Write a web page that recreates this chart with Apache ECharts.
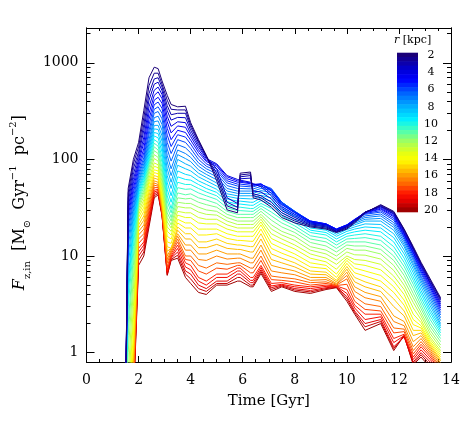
<!DOCTYPE html>
<html>
<head>
<meta charset="utf-8">
<script src="https://cdn.jsdelivr.net/npm/echarts@6.0.0/dist/echarts.min.js"></script>
<style>
    html, body { margin: 0; padding: 0; background: #fff; }
    #chart { width: 474px; height: 427px; }
</style>
</head>
<body>
<div id="chart"></div>
<script>
// time grid in Gyr
const times = [1.5, 1.6, 1.8, 2.0, 2.2, 2.4, 2.6, 2.75, 2.9, 3.1, 3.25, 3.5, 3.8, 4.0, 4.3, 4.6, 5.0, 5.4, 5.8, 5.9,
    6.3, 6.4, 6.7, 7.1, 7.5, 8.0, 8.6, 9.2, 9.6, 10.0, 10.3, 10.7, 11.3, 11.8, 12.2, 12.55, 12.85, 13.2, 13.6]

// radii in kpc, one curve each
const radii = [2, 2.5, 3, 3.5, 4, 4.5, 5, 5.5, 6, 6.5, 7, 7.5, 8, 8.5, 9, 9.5, 10, 10.5, 11, 11.5,
    12, 12.5, 13, 13.5, 14, 14.5, 15, 15.5, 16, 16.5, 17, 17.5, 18, 18.5, 19, 19.5, 20]

// F_z,in per radius (rows follow radii, columns follow times)
const inflow = [
    [0.3, 50, 100, 150, 320, 700, 900, 870, 650, 460, 370, 350, 355, 240, 160, 110, 60, 30, 28, 72, 74, 40, 38, 32, 25, 22, 20, 19, 17.5, 19, 22, 28, 34, 29, 19, 12.5, 8.6, 5.8, 3.7],
    [0.3, 45, 90, 135, 270, 580, 780, 780, 600, 410, 330, 325, 325, 228, 155, 109, 66, 33, 30, 69, 71, 42, 40, 34, 26.5, 23, 20.5, 19.5, 17.8, 19.5, 22.5, 28.2, 33.5, 28.5, 18.8, 12.2, 8.4, 5.6, 3.6],
    [0.3, 40, 80, 120, 230, 480, 680, 700, 560, 360, 290, 300, 300, 215, 150, 108, 72, 36, 32, 66, 68, 44, 42, 36, 28, 24, 21, 20, 18, 20, 23, 28.5, 33, 28, 18.5, 12, 8.2, 5.5, 3.5],
    [0.3, 36, 70, 110, 200, 410, 600, 630, 515, 320, 255, 272, 270, 200, 142, 105, 80, 40, 35, 63, 64, 47, 46, 39, 29.5, 25, 21.5, 20.5, 18.2, 20.2, 23.2, 28.5, 32.5, 27.5, 18, 11.8, 8, 5.3, 3.35],
    [0.3, 32, 62, 100, 170, 350, 520, 560, 470, 280, 220, 245, 240, 185, 135, 102, 90, 68, 62, 61, 58, 56, 52, 42, 31, 26, 22, 21, 18.5, 20.5, 23.5, 28.5, 32, 27, 17.5, 11.5, 7.8, 5.2, 3.2],
    [0.3, 29, 56, 92, 150, 300, 460, 500, 425, 245, 188, 222, 215, 172, 126, 98, 88, 66, 60, 59.5, 57, 55.5, 54, 44.5, 32.5, 27, 22.5, 21.2, 18.8, 20.8, 23.8, 28.2, 31.2, 26.2, 17, 11.1, 7.5, 5, 3.05],
    [0.3, 26, 50, 85, 130, 260, 410, 440, 380, 210, 160, 200, 190, 158, 118, 95, 85, 63, 58, 58, 56, 55, 56, 47, 34, 28, 23, 21.5, 19, 21, 24, 28, 30.5, 25.5, 16.5, 10.8, 7.2, 4.8, 2.9],
    [0.3, 23, 45, 78, 117, 228, 368, 392, 338, 178, 136, 180, 170, 144, 109, 90, 80, 60, 55.5, 55.5, 54, 53.5, 55.5, 48.5, 35, 28.5, 23, 21.5, 19, 21, 23.8, 27.5, 29.5, 24.5, 16, 10.4, 6.9, 4.55, 2.75],
    [0.3, 20, 40, 72, 105, 200, 330, 350, 300, 150, 115, 160, 150, 130, 100, 85, 76, 57, 53, 53, 52, 52, 55, 50, 36, 29, 23, 21.5, 19, 21, 23.5, 27, 28.5, 23.5, 15.5, 10, 6.6, 4.3, 2.6],
    [0.3, 17.5, 36, 67, 97, 180, 300, 313, 263, 128, 96, 142, 132, 117, 92, 80, 71, 53.5, 50, 50, 49.5, 49.5, 52.5, 49, 36, 29, 22.8, 21.2, 18.8, 20.8, 23, 26, 27.2, 22.2, 14.8, 9.5, 6.2, 4.05, 2.45],
    [0.3, 15, 32, 62, 90, 160, 270, 280, 230, 110, 80, 125, 115, 105, 85, 75, 66, 50, 47, 47, 47, 47, 50, 48, 36, 29, 22.5, 21, 18.5, 20.5, 22.5, 25, 26, 21, 14, 9, 5.9, 3.8, 2.3],
    [0.3, 12.5, 29, 58, 84, 147, 246, 250, 200, 94, 68, 112, 102, 95, 78, 70, 61.5, 47, 44.5, 44.5, 44.5, 44.5, 47.5, 45.5, 35, 28.5, 22, 20.5, 18, 20, 21.8, 24, 24.5, 19.8, 13.2, 8.4, 5.55, 3.55, 2.15],
    [0.3, 10, 26, 55, 78, 135, 225, 225, 175, 80, 58, 100, 90, 85, 72, 65, 57, 44, 42, 42, 42, 42, 45, 43, 34, 28, 21.5, 20, 17.5, 19.5, 21, 23, 23, 18.5, 12.5, 7.9, 5.2, 3.3, 2.0],
    [0.3, 8, 23, 51, 73, 125, 207, 204, 154, 68, 50, 87, 80, 76, 66, 60, 53, 41.5, 39.5, 39.5, 39, 39, 42.5, 40, 32, 26.8, 20.5, 19.2, 16.8, 18.8, 20, 21.5, 21.2, 17, 11.5, 7.3, 4.8, 3.05, 1.9],
    [0.3, 6, 20, 48, 68, 115, 190, 185, 135, 58, 42, 76, 70, 68, 60, 55, 49, 39, 37, 37, 36, 36, 40, 37, 30, 25.5, 19.5, 18.5, 16, 18, 19, 20, 19.5, 15.5, 10.5, 6.7, 4.4, 2.8, 1.8],
    [0.3, 5, 17.5, 45, 64, 107, 175, 167, 119, 49, 36, 66, 62, 61, 55, 50, 45.5, 36.5, 34.5, 34.5, 33.5, 33.5, 37.5, 34, 28, 23.8, 18.5, 17.5, 15, 17, 17.8, 18.5, 17.8, 14, 9.5, 6.1, 4.05, 2.6, 1.7],
    [0.3, 4, 15, 42, 60, 100, 160, 150, 105, 42, 31, 58, 55, 55, 50, 46, 42, 34, 32, 32, 31, 31, 35, 31, 26, 22, 17.5, 16.5, 14, 16, 16.5, 17, 16, 12.5, 8.6, 5.6, 3.7, 2.4, 1.6],
    [0.3, 3, 12.5, 39.5, 56, 94, 147, 137, 93, 37, 28, 51, 49, 49.5, 45, 42, 38.5, 31.5, 29.5, 29.5, 29, 29, 33, 28.5, 24, 20.5, 16.2, 15.2, 13, 15, 15.2, 15.5, 14.5, 11.2, 7.8, 5.1, 3.4, 2.2, 1.5],
    [0.3, 2, 10, 37, 52, 88, 135, 125, 82, 32, 25, 45, 43, 44, 40, 38, 35, 29, 27, 27, 27, 27, 31, 26, 22, 19, 15, 14, 12, 14, 14, 14, 13, 10, 7, 4.6, 3.1, 2.0, 1.4],
    [0.3, 1.5, 8, 35, 48, 82, 123, 115, 73, 28, 23, 40, 39, 39.5, 36, 34, 32, 27, 25, 25, 25, 25, 29, 23.5, 20, 17.5, 13.8, 12.7, 11, 13, 12.7, 12.7, 11.7, 9, 6.3, 4.1, 2.85, 1.85, 1.3],
    [0.3, 1, 6, 33, 45, 76, 112, 105, 65, 25, 21, 36, 35, 35, 32, 30, 29, 25, 23, 23, 23, 23, 27, 21, 18, 16, 12.5, 11.5, 10, 12, 11.5, 11.5, 10.5, 8, 5.6, 3.7, 2.6, 1.7, 1.2],
    [0.3, 0.6, 4.5, 31, 41.5, 70, 102, 96, 58, 22.5, 19.5, 32.5, 31.5, 31.5, 28.5, 27, 26.5, 23, 21.2, 21.2, 21.2, 21.2, 25.5, 19, 16.5, 14.5, 11.5, 10.5, 9.1, 11, 10.3, 10.2, 9.3, 7.1, 5, 3.3, 2.4, 1.57, 1.12],
    [0.3, 0.4, 3, 29, 38, 64, 92, 88, 52, 20, 18, 29, 28, 28, 25, 24, 24, 21, 19.5, 19.5, 19.5, 19.5, 24, 17, 15, 13, 10.5, 9.5, 8.2, 10, 9.2, 9, 8.2, 6.2, 4.5, 2.9, 2.2, 1.45, 1.05],
    [0.3, 0.3, 2.2, 27, 35, 59, 85, 82, 47, 18, 16.5, 26.5, 25, 25, 22, 21.5, 21.5, 19, 17.8, 17.8, 17.8, 17.8, 22.5, 15.2, 13.5, 11.8, 9.5, 8.7, 7.3, 9.5, 8.3, 8, 7.2, 5.5, 4, 2.5, 2.05, 1.37, 1.0],
    [0.3, 0.3, 1.5, 25, 32, 55, 78, 76, 42, 16, 15, 24, 22, 22, 19, 19, 19, 17, 16, 16, 16, 16, 21, 13.5, 12, 10.5, 8.5, 8, 6.5, 9, 7.5, 7, 6.3, 4.8, 3.5, 2.2, 1.9, 1.3, 0.95],
    [0.3, 0.3, 1.2, 23, 29, 50, 73, 71, 39, 14, 13.5, 22, 19.5, 19.5, 16.5, 16.5, 17, 15.2, 14.5, 14.5, 14.2, 14.2, 19, 12, 10.7, 9.5, 7.7, 7.4, 6, 8.4, 6.7, 6.2, 5.5, 4.2, 3.1, 1.95, 1.8, 1.25, 0.9],
    [0.3, 0.3, 1, 21, 26, 46, 68, 66, 36, 12.5, 12, 20, 17, 17, 14, 14, 15, 13.5, 13, 13, 12.5, 12.5, 17, 10.5, 9.5, 8.5, 7, 6.8, 5.6, 7.8, 6, 5.4, 4.8, 3.6, 2.7, 1.7, 1.7, 1.2, 0.85],
    [0.3, 0.3, 0.85, 19.5, 23.5, 42, 64, 62, 34, 11.2, 12, 18.5, 15, 15, 12.2, 12.2, 13.2, 12, 11.7, 11.7, 11, 11, 15, 9.2, 8.5, 7.7, 6.5, 6.4, 5.4, 7.3, 5.4, 4.8, 4.3, 3, 2.4, 1.5, 1.6, 1.15, 0.82],
    [0.3, 0.3, 0.7, 18, 21, 38, 60, 58, 32, 10, 12, 17, 13, 13, 10.5, 10.5, 11.5, 10.5, 10.5, 10.5, 9.5, 9.5, 13, 8, 7.5, 7, 6, 6, 5.2, 6.8, 4.8, 4.2, 3.8, 2.4, 2.1, 1.3, 1.5, 1.1, 0.78],
    [0.3, 0.3, 0.6, 16.5, 19, 35, 57, 55, 31, 9.2, 11.5, 16, 11.5, 11.5, 9.2, 9, 10, 9.3, 9.5, 9.5, 8.5, 8.5, 11.5, 7, 6.7, 6.4, 5.6, 5.7, 5.1, 6.3, 4.3, 3.7, 3.4, 2.1, 1.9, 1.15, 1.4, 1.05, 0.74],
    [0.3, 0.3, 0.5, 15, 17, 32, 54, 53, 30, 8.5, 11, 15, 10, 10, 8, 7.5, 8.5, 8.2, 8.5, 8.5, 7.5, 7.5, 10, 6.2, 6, 5.8, 5.3, 5.4, 5, 5.8, 3.8, 3.2, 3, 1.8, 1.75, 1.05, 1.3, 1.0, 0.7],
    [0.3, 0.3, 0.45, 13.5, 15.5, 29.5, 51, 51, 29, 7.7, 10.5, 14, 9.2, 9, 7, 6.5, 7.5, 7.3, 8, 8, 6.7, 6.7, 9, 5.7, 5.6, 5.4, 5, 5.2, 4.95, 5.1, 3.4, 2.8, 2.7, 1.6, 1.65, 0.97, 1.22, 0.95, 0.67],
    [0.3, 0.3, 0.4, 12, 14, 27, 48, 49, 28, 7, 10, 13, 8.5, 8, 6, 5.5, 6.5, 6.5, 7.5, 7.5, 6, 6, 8, 5.2, 5.3, 5, 4.8, 5, 4.9, 4.5, 3.1, 2.5, 2.5, 1.4, 1.55, 0.9, 1.15, 0.9, 0.65],
    [0.3, 0.3, 0.37, 11, 13, 25, 46, 47.5, 27.5, 6.8, 9.7, 12, 7.7, 7.2, 5.5, 5, 6, 6, 7, 7, 5.6, 5.6, 7.6, 4.9, 5.1, 4.8, 4.6, 4.85, 4.85, 4.1, 2.9, 2.2, 2.35, 1.27, 1.5, 0.85, 1.07, 0.85, 0.62],
    [0.3, 0.3, 0.35, 10, 12, 23, 44, 46, 27, 6.6, 9.5, 11, 7, 6.5, 5, 4.6, 5.5, 5.5, 6.5, 6.5, 5.3, 5.3, 7.2, 4.7, 5, 4.6, 4.4, 4.7, 4.8, 3.8, 2.7, 2.0, 2.2, 1.15, 1.45, 0.8, 1.0, 0.8, 0.6],
    [0.3, 0.3, 0.32, 9, 11, 21.5, 42, 44.5, 26.5, 6.4, 9.2, 10.2, 6.5, 5.8, 4.6, 4.3, 5.2, 5.2, 6, 6, 5, 5, 6.9, 4.5, 4.9, 4.45, 4.25, 4.6, 4.75, 3.6, 2.6, 1.85, 2.1, 1.1, 1.5, 0.77, 0.95, 0.75, 0.57],
    [0.3, 0.3, 0.3, 8, 10, 20, 40, 43, 26, 6.3, 9, 9.5, 6, 5.2, 4.2, 4.0, 5.0, 5.0, 5.5, 5.5, 4.8, 4.8, 6.6, 4.3, 4.8, 4.3, 4.1, 4.5, 4.7, 3.4, 2.5, 1.7, 2.0, 1.05, 1.5, 0.75, 0.9, 0.7, 0.55],
]

const xTicks = [0, 2, 4, 6, 8, 10, 12, 14]
const yMajorTicks = [1, 10, 100, 1000]
const yMinorTicks = [2, 3, 4, 5, 6, 7, 8, 9, 20, 30, 40, 50, 60, 70, 80, 90, 200, 300, 400, 500, 600, 700, 800, 900, 2000]
const barTicks = [2, 4, 6, 8, 10, 12, 14, 16, 18, 20]

const FONT = 'DejaVu Serif'

// colour table, roughly the IDL rainbow used in the plot
const stops = [
    [0, [26, 0, 120]], [0.1, [0, 0, 216]], [0.16, [0, 0, 255]], [0.25, [0, 100, 255]],
    [0.34, [0, 180, 255]], [0.42, [0, 240, 255]], [0.48, [64, 255, 192]], [0.56, [160, 255, 96]],
    [0.64, [232, 255, 16]], [0.68, [255, 255, 0]], [0.76, [255, 176, 0]], [0.84, [255, 96, 0]],
    [0.9, [255, 16, 0]], [0.95, [224, 0, 0]], [1, [160, 0, 0]],
]

function colorFor(r) {
    const p = (r - 2) / 18
    for (let i = 1; i < stops.length; i++) {
        if (p <= stops[i][0]) {
            const a = stops[i - 1], b = stops[i]
            const f = (p - a[0]) / (b[0] - a[0])
            const c = a[1].map((v, k) => Math.round(v + (b[1][k] - v) * f))
            return 'rgb(' + c.join(',') + ')'
        }
    }
    return 'rgb(160,0,0)'
}

const black = { color: '#000', width: 1 }

function yAxisBase(position, ticks, len, labels) {
    return {
        type: 'log',
        logBase: 10,
        gridIndex: 0,
        min: 0.8,
        max: 2290,
        position: position,
        axisLine: { show: true, lineStyle: black },
        axisTick: { show: true, inside: true, length: len, lineStyle: black, customValues: ticks },
        axisLabel: labels
            ? {
                show: true,
                customValues: ticks,
                formatter: v => String(Math.round(v)),
                fontFamily: FONT,
                fontSize: 14,
                color: '#000',
                margin: 8,
            }
            : { show: false },
        splitLine: { show: false },
    }
}

function xAxisBase(position, labels) {
    return {
        type: 'value',
        gridIndex: 0,
        min: 0,
        max: 14,
        interval: 2,
        position: position,
        axisLine: { show: true, lineStyle: black },
        axisTick: { show: true, inside: true, length: 6, lineStyle: black },
        minorTick: { show: true, splitNumber: 4, length: 3, lineStyle: black },
        axisLabel: labels
            ? { show: true, customValues: xTicks, fontFamily: FONT, fontSize: 14, color: '#000', margin: 11 }
            : { show: false },
        splitLine: { show: false },
        minorSplitLine: { show: false },
    }
}

const xBottom = xAxisBase('bottom', true)
xBottom.name = 'Time [Gyr]'
xBottom.nameLocation = 'middle'
xBottom.nameGap = 32
xBottom.nameTextStyle = { fontFamily: FONT, fontSize: 15, color: '#000' }

const yLeft = yAxisBase('left', yMajorTicks, 8, true)
yLeft.name = '{i|F}{sub|z,in}  [M{sub|⊙}  Gyr{sup|−1}  pc{sup|−2}]\u00a0\u00a0\u00a0'
yLeft.nameLocation = 'middle'
yLeft.nameGap = 52
yLeft.nameRotate = 90
yLeft.nameTextStyle = {
    fontFamily: FONT,
    fontSize: 16,
    color: '#000',
    lineHeight: 24,
    rich: {
        i: { fontFamily: FONT, fontStyle: 'italic', fontSize: 16, color: '#000', lineHeight: 24 },
        sub: { fontFamily: FONT, fontSize: 10, color: '#000', verticalAlign: 'bottom', lineHeight: 24 },
        sup: { fontFamily: FONT, fontSize: 10, color: '#000', verticalAlign: 'top', lineHeight: 24 },
    },
}

const lineSeries = radii.map((r, i) => ({
    type: 'line',
    name: 'r=' + r,
    xAxisIndex: 0,
    yAxisIndex: 0,
    data: times.map((t, j) => [t, inflow[i][j]]),
    showSymbol: false,
    symbol: 'none',
    silent: true,
    clip: true,
    z: 10 + (radii.length - i),
    lineStyle: { width: 1, color: colorFor(r) },
    itemStyle: { color: colorFor(r) },
})).reverse()

const option = {
    backgroundColor: '#fff',
    animation: false,
    grid: [
        { left: 85, right: 23, top: 28, bottom: 65 },
        { left: 397, top: 53, width: 21, height: 159 },
    ],
    xAxis: [
        xBottom,
        xAxisBase('top', false),
        { type: 'value', gridIndex: 1, min: 0, max: 1, show: false },
    ],
    yAxis: [
        yLeft,
        yAxisBase('left', yMinorTicks, 4, false),
        yAxisBase('right', yMajorTicks, 8, false),
        yAxisBase('right', yMinorTicks, 4, false),
        {
            type: 'value',
            gridIndex: 1,
            min: 1.75,
            max: 20.25,
            inverse: true,
            position: 'right',
            axisLine: { show: false },
            axisTick: { show: false },
            splitLine: { show: false },
            axisLabel: {
                show: true,
                customValues: barTicks,
                fontFamily: FONT,
                fontSize: 11,
                color: '#000',
                align: 'center',
                margin: 13,
            },
        },
    ],
    graphic: [
        {
            type: 'text',
            left: 394,
            top: 35,
            style: {
                text: '{i|r} [kpc]',
                fontFamily: FONT,
                fontSize: 11,
                fill: '#000',
                rich: {
                    i: { fontFamily: FONT, fontStyle: 'italic', fontSize: 11, fill: '#000' },
                },
            },
        },
    ],
    series: [
        ...lineSeries,
        {
            type: 'custom',
            xAxisIndex: 2,
            yAxisIndex: 4,
            silent: true,
            data: radii.map(r => [0, r]),
            renderItem: (params, api) => {
                const r = api.value(1)
                const p0 = api.coord([0, r - 0.25])
                const p1 = api.coord([1, r + 0.25])
                return {
                    type: 'rect',
                    shape: { x: p0[0], y: p0[1] - 0.3, width: p1[0] - p0[0], height: p1[1] - p0[1] + 0.6 },
                    style: { fill: colorFor(r) },
                }
            },
        },
    ],
}

const chart = echarts.init(document.getElementById('chart'))
chart.setOption(option)
</script>
</body>
</html>
